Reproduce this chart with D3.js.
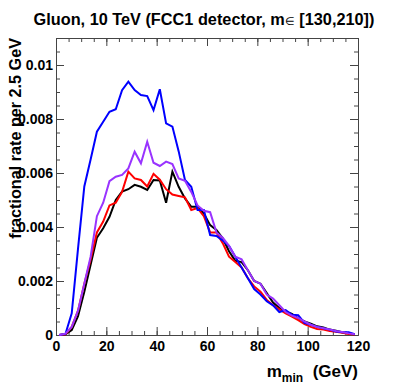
<!DOCTYPE html>
<html>
<head>
<meta charset="utf-8">
<title>gluon mmin</title>
<script src="https://cdn.jsdelivr.net/npm/d3@7"></script>
<style>
  body { margin: 0; background: #fff; }
  text { font-family: "Liberation Sans", Arial, sans-serif; font-weight: bold; fill: #000; }
  .axis path, .axis line { stroke: #444; }
</style>
</head>
<body>
<svg width="399" height="385"></svg>
<script>
// bin width 2.5 GeV, 0..120
var binLow = d3.range(0, 120, 2.5);
var xTicks = [0, 20, 40, 60, 80, 100, 120];
var yTicks = [0, 0.002, 0.004, 0.006, 0.008, 0.01];

var blue = [0, 0.00004, 0.0008, 0.0032, 0.0055, 0.0065, 0.00753, 0.0079, 0.00827, 0.00836,
  0.00907, 0.00938, 0.00907, 0.00889, 0.00885, 0.00833, 0.0091, 0.00784, 0.00772, 0.0068,
  0.00574, 0.00549, 0.00463, 0.00463, 0.0037, 0.00367, 0.0035, 0.0033, 0.0029, 0.0025,
  0.0021, 0.0017, 0.0015, 0.00125, 0.0011, 0.00085, 0.00092, 0.00075, 0.00073, 0.00045,
  0.00038, 0.0003, 0.00025, 0.0002, 0.00013, 0.0001, 0.0001, 0.00003];
var purple = [0, 0.00005, 0.0003, 0.0009, 0.0019, 0.0029, 0.0044, 0.0049, 0.0057, 0.00586,
  0.00593, 0.00617, 0.00679, 0.00636, 0.00716, 0.00638, 0.00626, 0.00642, 0.00633, 0.0058,
  0.00571, 0.0053, 0.0048, 0.0046, 0.00455, 0.0038, 0.0036, 0.0033, 0.0029, 0.0028,
  0.0024, 0.002, 0.0019, 0.0015, 0.00135, 0.0011, 0.00085, 0.00072, 0.00063, 0.0005,
  0.00038, 0.0003, 0.00025, 0.0002, 0.00015, 0.00011, 0.00006, 0.00003];
var red = [0, 0.00003, 0.0003, 0.0009, 0.0019, 0.0028, 0.0038, 0.0042, 0.0048, 0.0049,
  0.0053, 0.00605, 0.0058, 0.00574, 0.0055, 0.00597, 0.00575, 0.0054, 0.0052, 0.00515,
  0.0051, 0.00463, 0.0047, 0.0044, 0.0038, 0.0038, 0.0034, 0.0029, 0.0027, 0.0025,
  0.0021, 0.0018, 0.0016, 0.0013, 0.0011, 0.00095, 0.0008, 0.00068, 0.00055, 0.0004,
  0.0003, 0.00022, 0.0002, 0.00015, 0.00012, 0.00008, 0.00004, 0.00002];
var black = [0, 0.00003, 0.00018, 0.0007, 0.0016, 0.0026, 0.0036, 0.00395, 0.00438, 0.005,
  0.00531, 0.0054, 0.00556, 0.00549, 0.00537, 0.00574, 0.00572, 0.0049, 0.00605, 0.00549,
  0.00506, 0.00475, 0.00475, 0.0045, 0.00407, 0.00389, 0.00358, 0.0031, 0.00275, 0.0027,
  0.0024, 0.002, 0.0019, 0.00155, 0.0012, 0.001, 0.00087, 0.00078, 0.00062, 0.0005,
  0.00042, 0.00032, 0.00028, 0.0002, 0.00016, 0.0001, 0.00006, 0.00002];

var series = [
  {values: black, color: "#000000"},
  {values: red, color: "#ff0000"},
  {values: blue, color: "#0000ff"},
  {values: purple, color: "#9933ff"}
];

var svg = d3.select("svg"),
    pLeft = 56, pRight = 358, pTop = 38, pBottom = 335;

var x = d3.scaleLinear().domain([0, 120]).range([pLeft, pRight]);
var y = d3.scaleLinear().domain([0, 0.011]).range([pBottom, pTop]);

var yFmt = function(d) { return d === 0 ? "0" : String(+d.toFixed(3)); };

// minor ticks every 5 GeV / 0.0005
var xMinor = d3.range(0, 121, 5), yMinor = d3.range(0, 0.0106, 0.0005);

function addAxis(axisFn, scale, tr, major, minor, fmt) {
  var g = svg.append("g").attr("class", "axis").attr("transform", tr);
  g.call(axisFn(scale).tickValues(minor).tickSize(-4).tickSizeOuter(0).tickFormat(""));
  var g2 = svg.append("g").attr("class", "axis").attr("transform", tr);
  g2.call(axisFn(scale).tickValues(major).tickSize(-8).tickSizeOuter(0).tickPadding(4).tickFormat(fmt || ""));
  g2.selectAll("text").style("font-size", "14px");
  return g2;
}

var gx = addAxis(d3.axisBottom, x, `translate(0,${pBottom})`, xTicks, xMinor, d3.format("d"));
gx.selectAll("text").attr("dy", "0.95em").attr("y", 3);
var gy = addAxis(d3.axisLeft, y, `translate(${pLeft},0)`, yTicks, yMinor, yFmt);
gy.selectAll("text").attr("x", -3);
addAxis(d3.axisTop, x, `translate(0,${pTop})`, xTicks, xMinor);
addAxis(d3.axisRight, y, `translate(${pRight},0)`, yTicks, yMinor);
svg.selectAll(".axis .domain").attr("stroke", "#444");

// curves through bin centres
var line = d3.line()
  .x(function(d, i) { return x(binLow[i] + 1.25); })
  .y(function(d) { return y(d); });

svg.append("g").selectAll("path").data(series).enter().append("path")
  .attr("fill", "none")
  .attr("stroke", function(d) { return d.color; })
  .attr("stroke-width", 2)
  .attr("d", function(d) { return line(d.values); });

// title
var tt = svg.append("text").attr("x", 204).attr("y", 25).attr("text-anchor", "middle")
  .style("font-size", "16.3px");
tt.append("tspan").text("Gluon, 10 TeV (FCC1 detector, m");
tt.append("tspan").style("font-size", "11px").style("font-weight", "normal").text("\u2208");
tt.append("tspan").text(" [130,210])");

// y title
svg.append("text").attr("transform", `translate(21,${pTop}) rotate(-90)`)
  .attr("text-anchor", "end").style("font-size", "16.2px")
  .text("fractional rate per 2.5 GeV");

// x title
var xt = svg.append("text").attr("x", pRight).attr("y", 377).attr("text-anchor", "end")
  .style("font-size", "17px");
xt.append("tspan").text("m");
xt.append("tspan").attr("dy", 5).style("font-size", "12px").text("min");
xt.append("tspan").attr("dy", -5).text("\u00a0\u00a0(GeV)");
</script>
</body>
</html>
